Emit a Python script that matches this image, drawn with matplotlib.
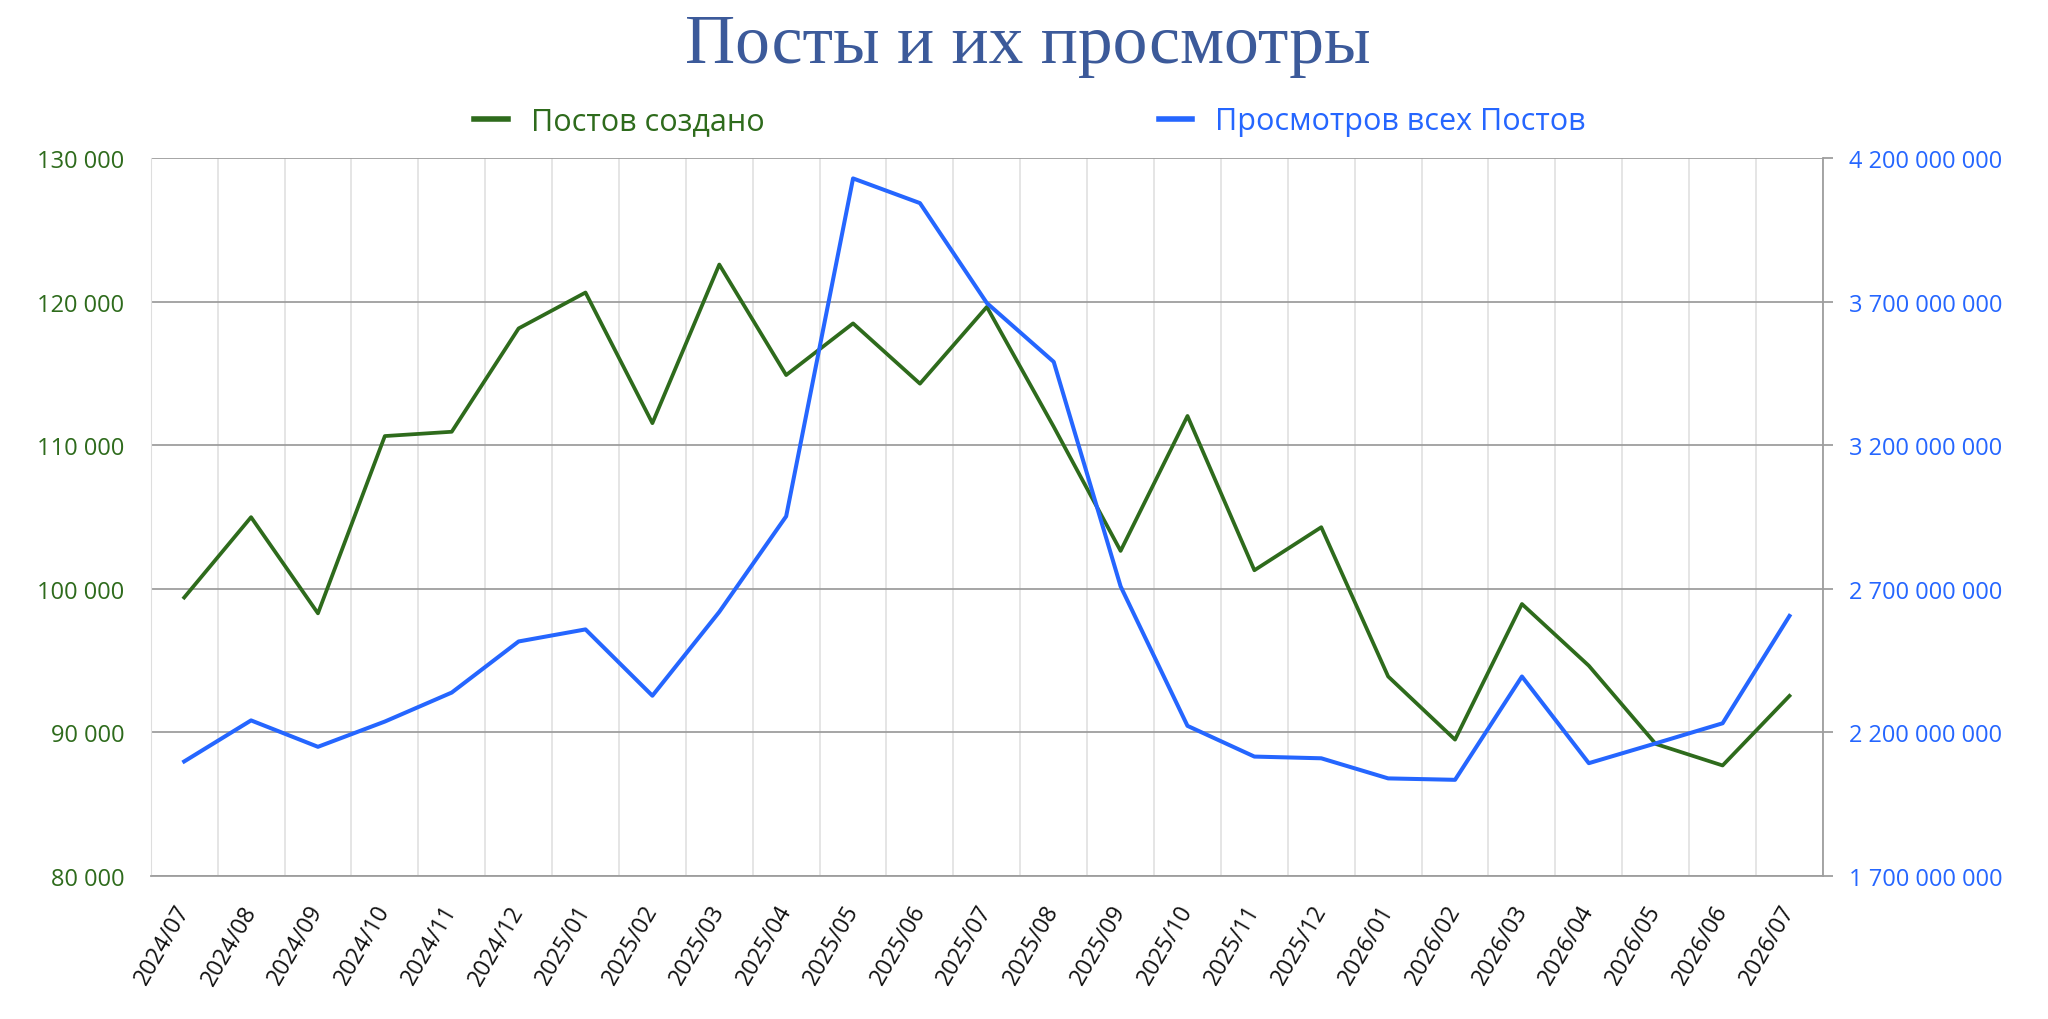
import matplotlib.pyplot as plt
from matplotlib.ticker import FuncFormatter, MultipleLocator, FixedLocator

# Данные графика
months = ["2024/07", "2024/08", "2024/09", "2024/10", "2024/11", "2024/12",
          "2025/01", "2025/02", "2025/03", "2025/04", "2025/05", "2025/06",
          "2025/07", "2025/08", "2025/09", "2025/10", "2025/11", "2025/12",
          "2026/01", "2026/02", "2026/03", "2026/04", "2026/05", "2026/06",
          "2026/07"]
posts = [99400, 105000, 98300, 110650, 110950, 118150, 120650, 111550,
         122600, 114900, 118500, 114300, 119650, 111300, 102650, 112050,
         101300, 104300, 93900, 89500, 98950, 94650, 89200, 87700, 92550]
views = [2.099e9, 2.242e9, 2.150e9, 2.238e9, 2.339e9, 2.517e9, 2.559e9,
         2.328e9, 2.620e9, 2.953e9, 4.130e9, 4.044e9, 3.696e9, 3.491e9,
         2.709e9, 2.223e9, 2.116e9, 2.110e9, 2.040e9, 2.035e9, 2.395e9,
         2.093e9, 2.162e9, 2.232e9, 2.606e9]
views_ticks = [1.7e9, 2.2e9, 2.7e9, 3.2e9, 3.7e9, 4.2e9]

GREEN = "#2e6b1c"
BLUE = "#2566ff"

plt.rcParams["font.family"] = ["Open Sans", "DejaVu Sans"]


def fmt(v, pos):
    return f"{v:,.0f}".replace(",", " ")


fig = plt.figure(figsize=(20.48, 10.2), dpi=100)
ax = fig.add_axes([0.0736, 0.1402, 0.8165, 0.7036])
ax2 = ax.twinx()

x = list(range(len(months)))
lg, = ax.plot(x, posts, color=GREEN, lw=2.7, label="Постов создано")
lb, = ax2.plot(x, views, color=BLUE, lw=2.9, label="Просмотров всех Постов")

# Оси и сетка
ax.set_xlim(-0.5, len(months) - 0.5)
ax.set_ylim(80000, 130000)
ax.yaxis.set_major_locator(MultipleLocator(10000))
ax2.set_ylim(views_ticks[0], views_ticks[-1])
ax2.yaxis.set_major_locator(FixedLocator(views_ticks))
ax.yaxis.set_major_formatter(FuncFormatter(fmt))
ax2.yaxis.set_major_formatter(FuncFormatter(fmt))

ax.set_xticks(x)
ax.set_xticklabels(months, rotation=60, ha="right", va="center",
                   rotation_mode="anchor", color="#111111", fontsize=16.7)
ax.xaxis.set_minor_locator(FixedLocator([i + 0.5 for i in range(-1, len(months))]))
ax.grid(True, which="minor", axis="x", color="#dedede", lw=1.1)
ax.grid(True, which="major", axis="y", color="#9e9e9e", lw=1.3)
ax.tick_params(axis="x", which="both", length=0, pad=22)
ax.tick_params(axis="y", length=0, pad=19, labelsize=17, labelcolor=GREEN)
ax2.tick_params(axis="y", length=7, width=1.3, color="#9e9e9e", pad=12,
                labelsize=17, labelcolor=BLUE)

for s in ["top", "right"]:
    ax.spines[s].set_visible(False)
ax.spines["left"].set_color("#dedede")
ax.spines["bottom"].set_color("#9e9e9e")
ax.spines["bottom"].set_linewidth(1.3)
for s in ["top", "left", "bottom"]:
    ax2.spines[s].set_visible(False)
ax2.spines["right"].set_color("#9e9e9e")
ax2.spines["right"].set_linewidth(1.3)
ax.set_axisbelow(True)

# Заголовок и легенда
fig.text(0.502, 0.938, "Посты и их просмотры", ha="center", va="baseline",
         fontsize=50, color="#3c5a9a", family="Liberation Serif")
leg = fig.legend(handles=[lg, lb], loc="center", bbox_to_anchor=(0.503, 0.880),
                 ncol=2, frameon=False, fontsize=22, handlelength=1.1,
                 handletextpad=0.75, columnspacing=12.9)
for h in leg.get_lines():
    h.set_linewidth(4)
leg.get_texts()[0].set_color(GREEN)
leg.get_texts()[1].set_color(BLUE)

fig.savefig("out.png", dpi=100)
